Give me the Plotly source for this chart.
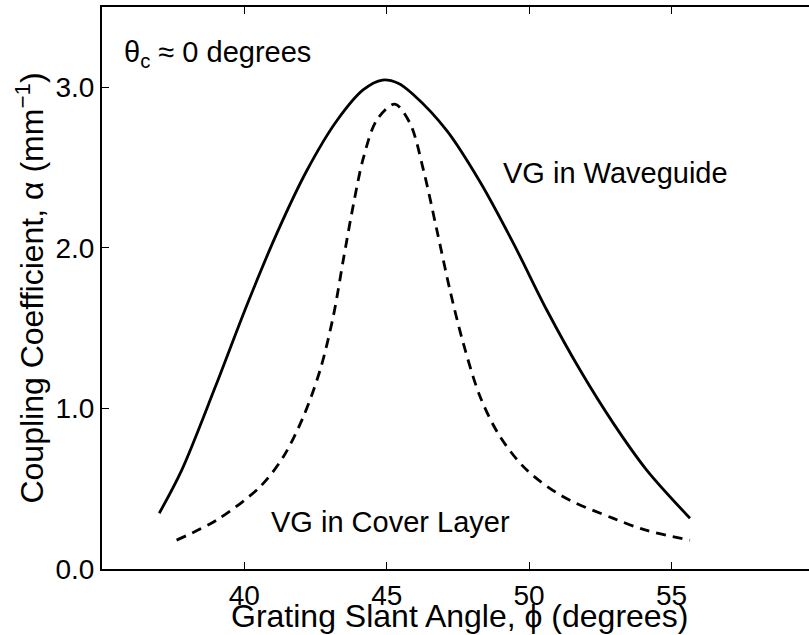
import plotly.graph_objects as go

# Solid curve: VG in Waveguide
wg_x = [37.01, 37.80, 38.97, 40.08, 41.14, 42.19, 43.24, 44.18, 44.85, 45.40,
        45.93, 47.11, 48.28, 49.45, 50.62, 51.79, 52.96, 54.13, 55.65]
wg_y = [0.347, 0.616, 1.130, 1.640, 2.090, 2.480, 2.790, 2.985, 3.045, 3.025,
        2.955, 2.730, 2.410, 2.028, 1.613, 1.239, 0.907, 0.616, 0.316]

# Dashed curve: VG in Cover Layer
cv_x = [37.62, 39.03, 40.55, 41.37, 42.07, 42.66, 43.12, 43.48, 43.83, 44.18, 44.65, 45.28,
        45.82, 46.29, 46.76, 47.22, 47.69, 48.28, 48.98, 49.92, 51.20, 52.96, 54.13, 55.65]
cv_y = [0.18, 0.305, 0.512, 0.699, 0.948, 1.239, 1.571, 1.930, 2.270, 2.560, 2.796, 2.895,
        2.775, 2.484, 2.111, 1.737, 1.405, 1.073, 0.824, 0.616, 0.450, 0.315, 0.240, 0.18]

x_ticks = [40, 45, 50, 55]
y_ticks = [0.0, 1.0, 2.0, 3.0]
y_tick_labels = ["0.0", "1.0", "2.0", "3.0"]

FONT = "Liberation Sans, Arial, Helvetica, sans-serif"

fig = go.Figure()
fig.add_trace(go.Scatter(x=wg_x, y=wg_y, mode="lines",
                         line=dict(color="black", width=2.8, shape="spline", smoothing=0.9),
                         showlegend=False))
fig.add_trace(go.Scatter(x=cv_x, y=cv_y, mode="lines",
                         line=dict(color="black", width=2.8, dash="10px,7px", shape="spline", smoothing=0.9),
                         showlegend=False))

fig.add_annotation(x=35.70, y=0.9164, xref="x", yref="paper", xanchor="left", yanchor="middle",
                   text="θ<sub>c</sub> ≈ 0 degrees", showarrow=False, font=dict(size=29, color="black", family=FONT))
fig.add_annotation(x=49.00, y=2.466, xanchor="left", yanchor="middle",
                   text="VG in Waveguide", showarrow=False, font=dict(size=29, color="black", family=FONT))
fig.add_annotation(x=40.85, y=0.293, xanchor="left", yanchor="middle",
                   text="VG in Cover Layer", showarrow=False, font=dict(size=29, color="black", family=FONT))
# x-axis title (placed to overlap tick labels slightly, as in the original)
fig.add_annotation(x=47.57, y=-0.0836, xref="x", yref="paper", xanchor="center", yanchor="middle",
                   text="Grating Slant Angle, ϕ (degrees)", showarrow=False,
                   font=dict(size=32, color="black", family=FONT))

fig.update_layout(
    width=809, height=635,
    margin=dict(l=102, r=0, t=7, b=66),
    plot_bgcolor="white", paper_bgcolor="white",
    font=dict(family=FONT, size=28, color="black"),
    xaxis=dict(range=[35, 59.83], tickvals=x_ticks, ticks="inside", ticklen=7, tickwidth=1, tickcolor="black",
               showline=True, linecolor="black", linewidth=2, mirror="ticks", showgrid=False, zeroline=False,
               tickfont=dict(size=28)),
    yaxis=dict(range=[0, 3.5], tickvals=y_ticks, ticktext=y_tick_labels, ticks="inside", ticklen=7, tickwidth=1,
               tickcolor="black", showline=True, linecolor="black", linewidth=2, showgrid=False, zeroline=False,
               tickfont=dict(size=28),
               title=dict(text="Coupling Coefficient, α (mm<sup>−1</sup>)", standoff=2, font=dict(size=32))),
)

fig.write_html("out.html")
